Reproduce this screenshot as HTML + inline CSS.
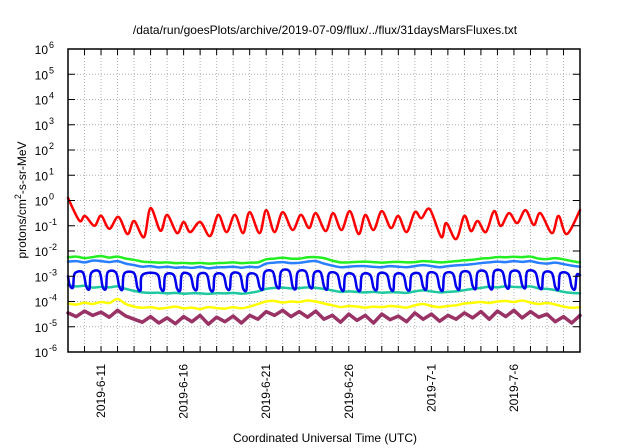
<!DOCTYPE html>
<html><head><meta charset="utf-8"><style>
html,body{margin:0;padding:0;background:#fff;}
svg{display:block;font-family:"Liberation Sans",sans-serif;}
</style></head><body>
<svg id="chart" width="640" height="448" viewBox="0 0 640 448" xmlns="http://www.w3.org/2000/svg">
<text x="325" y="34" font-size="12" text-anchor="middle">/data/run/goesPlots/archive/2019-07-09/flux/../flux/31daysMarsFluxes.txt</text>
<g id="grid"></g>
<g id="series"></g>
<g id="axes"></g>
<text transform="translate(26,200) rotate(-90)" font-size="12" text-anchor="middle">protons/cm<tspan dy="-5" font-size="9">2</tspan><tspan dy="5">-s-sr-MeV</tspan></text>
<text x="325" y="442" font-size="12" text-anchor="middle">Coordinated Universal Time (UTC)</text>
</svg>
<script>
const yExps = [6,5,4,3,2,1,0,-1,-2,-3,-4,-5,-6];
const xTickLabels = ["2019-6-11","2019-6-16","2019-6-21","2019-6-26","2019-7-1","2019-7-6"];
const xTickDays = [2,7,12,17,22,27];
const halfDays = [0,0.5,1,1.5,2,2.5,3,3.5,4,4.5,5,5.5,6,6.5,7,7.5,8,8.5,9,9.5,10,10.5,11,11.5,12,12.5,13,13.5,14,14.5,15,15.5,16,16.5,17,17.5,18,18.5,19,19.5,20,20.5,21,21.5,22,22.5,23,23.5,24,24.5,25,25.5,26,26.5,27,27.5,28,28.5,29,29.5,30,30.5,31];
const redDays = [0,0.69,1.03,1.6,2.0,2.5,3.05,3.6,4.0,4.6,5.0,5.6,6.0,6.6,7.0,7.4,8.0,8.6,9.1,9.6,10.1,10.6,11.0,11.6,12.0,12.5,13.0,13.6,14.1,14.6,15.0,15.6,16.05,16.56,17.06,17.6,18.0,18.5,19.0,19.55,20.0,20.5,21.0,21.4,21.9,22.6,22.9,23.5,24.0,24.4,24.8,25.3,25.8,26.2,26.7,27.2,27.7,28.2,28.6,29.3,29.7,30.2,31];
const redLog = [0.1,-0.8,-0.61,-1,-0.6,-1.12,-0.65,-1.33,-0.81,-1.45,-0.3,-1.2,-0.57,-1.29,-0.85,-1.25,-0.85,-1.41,-0.57,-1.25,-0.57,-1.29,-0.46,-1.29,-0.38,-1.25,-0.46,-1.17,-0.57,-1.09,-0.5,-1.21,-0.5,-1.17,-0.42,-1.33,-0.57,-1.17,-0.42,-1.09,-0.61,-1.25,-0.46,-0.7,-0.34,-1.45,-0.89,-1.53,-0.61,-1.21,-0.81,-1.25,-0.42,-1.01,-0.5,-0.89,-0.38,-0.97,-0.5,-1.29,-0.61,-1.33,-0.38];
const greenLog = [-2.25,-2.22,-2.28,-2.24,-2.2,-2.26,-2.22,-2.3,-2.35,-2.42,-2.44,-2.46,-2.45,-2.48,-2.47,-2.49,-2.47,-2.5,-2.48,-2.47,-2.45,-2.48,-2.46,-2.45,-2.33,-2.3,-2.27,-2.3,-2.3,-2.25,-2.24,-2.28,-2.38,-2.45,-2.45,-2.43,-2.42,-2.44,-2.46,-2.44,-2.43,-2.45,-2.44,-2.4,-2.42,-2.45,-2.43,-2.4,-2.37,-2.35,-2.3,-2.28,-2.24,-2.25,-2.23,-2.24,-2.22,-2.3,-2.32,-2.28,-2.33,-2.4,-2.45];
const lightBlueLog = [-2.42,-2.4,-2.45,-2.38,-2.4,-2.44,-2.4,-2.5,-2.56,-2.62,-2.6,-2.65,-2.62,-2.66,-2.64,-2.67,-2.63,-2.68,-2.65,-2.64,-2.62,-2.66,-2.62,-2.64,-2.5,-2.46,-2.44,-2.48,-2.47,-2.42,-2.4,-2.5,-2.58,-2.64,-2.62,-2.6,-2.6,-2.63,-2.64,-2.6,-2.62,-2.64,-2.6,-2.56,-2.6,-2.64,-2.6,-2.57,-2.55,-2.52,-2.48,-2.45,-2.42,-2.44,-2.4,-2.43,-2.4,-2.47,-2.5,-2.46,-2.52,-2.58,-2.62];
const tealLog = [-3.35,-3.4,-3.38,-3.45,-3.42,-3.44,-3.4,-3.5,-3.58,-3.64,-3.66,-3.65,-3.68,-3.66,-3.69,-3.67,-3.68,-3.7,-3.67,-3.68,-3.66,-3.69,-3.66,-3.6,-3.5,-3.46,-3.45,-3.48,-3.47,-3.44,-3.46,-3.5,-3.56,-3.62,-3.6,-3.62,-3.64,-3.62,-3.65,-3.63,-3.64,-3.66,-3.6,-3.56,-3.6,-3.64,-3.62,-3.6,-3.55,-3.5,-3.46,-3.42,-3.44,-3.4,-3.42,-3.43,-3.4,-3.48,-3.5,-3.55,-3.62,-3.66,-3.68];
const yellowLog = [-4.08,-4.12,-4.05,-4.1,-4.02,-4.06,-3.9,-4.1,-4.2,-4.25,-4.22,-4.28,-4.25,-4.2,-4.27,-4.24,-4.3,-4.22,-4.26,-4.28,-4.23,-4.27,-4.2,-4.1,-4.0,-3.98,-4.04,-4.0,-4.02,-3.96,-4.0,-4.08,-4.15,-4.22,-4.18,-4.2,-4.24,-4.2,-4.22,-4.18,-4.2,-4.24,-4.15,-4.1,-4.18,-4.22,-4.18,-4.15,-4.08,-4.05,-4.02,-4.06,-4.0,-3.98,-4.02,-3.96,-4.04,-4.1,-4.06,-4.12,-4.2,-4.25,-4.22];
const purpleLog = [-4.45,-4.6,-4.38,-4.55,-4.42,-4.62,-4.35,-4.58,-4.7,-4.82,-4.6,-4.85,-4.65,-4.88,-4.6,-4.8,-4.55,-4.9,-4.62,-4.8,-4.58,-4.85,-4.55,-4.7,-4.4,-4.55,-4.35,-4.6,-4.4,-4.62,-4.38,-4.7,-4.55,-4.82,-4.5,-4.75,-4.55,-4.85,-4.5,-4.72,-4.58,-4.8,-4.45,-4.7,-4.5,-4.78,-4.55,-4.7,-4.45,-4.65,-4.4,-4.7,-4.38,-4.6,-4.35,-4.65,-4.4,-4.62,-4.5,-4.8,-4.6,-4.85,-4.55];
const blueDays = [0,0.1,0.3,0.4, 0.9,1.1,1.3,1.4, 1.9,2.1,2.3,2.4, 2.9,3.1,3.3,3.4, 4.0,4.2,4.4,4.5, 5.4,5.6,5.8,5.9, 6.4,6.6,6.8,6.9, 7.4,7.6,7.8,7.9, 8.4,8.6,8.8,8.9, 9.4,9.6,9.8,9.9, 10.4,10.6,10.8,10.9, 11.4,11.6,11.8,11.9, 12.4,12.6,12.8,12.9, 13.4,13.6,13.8,13.9, 14.4,14.6,14.8,14.9, 15.3,15.5,15.7,15.8, 16.3,16.5,16.7,16.8, 17.3,17.5,17.7,17.8, 18.3,18.5,18.7,18.8, 19.3,19.5,19.7,19.8, 20.3,20.5,20.7,20.8, 21.3,21.5,21.7,21.8, 22.3,22.5,22.7,22.8, 23.3,23.5,23.7,23.8, 24.3,24.5,24.7,24.8, 25.3,25.5,25.7,25.8, 26.3,26.5,26.7,26.8, 27.3,27.5,27.7,27.8, 28.3,28.5,28.7,28.8, 29.3,29.5,29.7,29.8, 30.3,30.5,30.7,30.8, 31];
const blueLog = [-3.0,-3.35,-3.45,-2.9, -2.85,-3.4,-3.5,-2.88, -2.82,-3.42,-3.48,-2.85, -2.85,-3.4,-3.52,-2.9, -2.88,-3.45,-3.55,-2.95, -2.92,-3.45,-3.55,-2.95, -2.95,-3.48,-3.55,-2.92, -2.95,-3.45,-3.52,-2.95, -2.93,-3.5,-3.55,-2.95, -2.95,-3.45,-3.5,-2.92, -2.92,-3.48,-3.55,-2.95, -2.95,-3.42,-3.5,-2.85, -2.82,-3.35,-3.45,-2.82, -2.8,-3.4,-3.48,-2.85, -2.82,-3.35,-3.45,-2.88, -2.85,-3.4,-3.5,-2.9, -2.92,-3.45,-3.55,-2.95, -2.95,-3.48,-3.55,-2.95, -2.95,-3.45,-3.52,-2.92, -2.93,-3.45,-3.55,-2.95, -2.95,-3.48,-3.52,-2.95, -2.92,-3.42,-3.5,-2.9, -2.92,-3.45,-3.55,-2.92, -2.9,-3.4,-3.5,-2.88, -2.86,-3.38,-3.48,-2.85, -2.84,-3.4,-3.48,-2.82, -2.82,-3.38,-3.45,-2.85, -2.83,-3.35,-3.45,-2.82, -2.85,-3.38,-3.48,-2.88, -2.88,-3.42,-3.5,-2.9, -2.92,-3.42,-3.5,-2.95, -2.95];

const L=68, R=580, T=49, B=352, NDAYS=31, YMAX=6, YMIN=-6;
const xs = d => L + (R-L)*d/NDAYS;
const ys = e => T + (B-T)*(YMAX-e)/(YMAX-YMIN);
const NS="http://www.w3.org/2000/svg";
function mk(tag, attrs, parent){const el=document.createElementNS(NS,tag);for(const k in attrs)el.setAttribute(k,attrs[k]);parent.appendChild(el);return el;}
const grid=document.getElementById('grid'), axes=document.getElementById('axes'), series=document.getElementById('series');
for(let d=1; d<NDAYS; d++){
  const g=mk('line',{x1:xs(d),x2:xs(d),y1:T,y2:B,stroke:'#b0b0b0','stroke-width':1,'stroke-dasharray':'1,2'},grid);
  
  
  const t1=mk('line',{x1:xs(d),x2:xs(d),y1:B,y2:B-6,stroke:'#000','stroke-width':1},axes);
  
  
  const t2=mk('line',{x1:xs(d),x2:xs(d),y1:T,y2:T+6,stroke:'#000','stroke-width':1},axes);
  
  
}
yExps.forEach(e=>{
  const y=ys(e);
  if(e<YMAX && e>YMIN){
    const g=mk('line',{x1:L,x2:R,y1:y,y2:y,stroke:'#b0b0b0','stroke-width':1,'stroke-dasharray':'1,2'},grid);
    
    
  }
  const t=mk('line',{x1:L,x2:L+7,y1:y,y2:y,stroke:'#000','stroke-width':1},axes);
  
  
  const t2=mk('line',{x1:R,x2:R-7,y1:y,y2:y,stroke:'#000','stroke-width':1},axes);
  
  
  const lab=mk('text',{x:L-20,y:y+5,'font-size':12,'text-anchor':'end'},axes);
  
  
  lab.textContent='10';
  const sup=mk('tspan',{x:L-19,y:y-1,'font-size':9,'text-anchor':'start'},lab);
  sup.textContent=String(e);
});
xTickDays.forEach((d,i)=>{
  const lab=mk('text',{transform:`translate(${xs(d)+4},${B+12}) rotate(-90)`,'font-size':12,'text-anchor':'end'},axes);
  
  
  lab.textContent=xTickLabels[i];
});
const frame=mk('rect',{x:L,y:T,width:R-L,height:B-T,fill:'none',stroke:'#000','stroke-width':1.5},axes);


function smoothPath(P){
  let d='M'+P[0][0].toFixed(1)+','+P[0][1].toFixed(1);
  for(let i=0;i<P.length-1;i++){
    const p0=P[Math.max(0,i-1)],p1=P[i],p2=P[i+1],p3=P[Math.min(P.length-1,i+2)];
    const c1x=p1[0]+(p2[0]-p0[0])/6,c1y=p1[1]+(p2[1]-p0[1])/6;
    const c2x=p2[0]-(p3[0]-p1[0])/6,c2y=p2[1]-(p3[1]-p1[1])/6;
    d+=` C${c1x.toFixed(1)},${c1y.toFixed(1)} ${c2x.toFixed(1)},${c2y.toFixed(1)} ${p2[0].toFixed(1)},${p2[1].toFixed(1)}`;
  }
  return d;
}
function drawLine(days, vals, color, w, name, smooth){
  const P=days.map((d,i)=>[xs(d),ys(vals[i])]);
  const p=mk('path',{d:smooth?smoothPath(P):'M'+P.map(q=>q[0].toFixed(1)+','+q[1].toFixed(1)).join(' L'),fill:'none',stroke:color,'stroke-width':w,'stroke-linejoin':'round','stroke-linecap':'round'},series);
  
  
}
drawLine(halfDays, purpleLog, '#993366', 3.5, 'series-purple', false);
drawLine(halfDays, yellowLog, '#ffff00', 2.5, 'series-yellow', true);
drawLine(halfDays, tealLog, '#20c8a0', 2.5, 'series-teal', true);
drawLine(blueDays, blueLog, '#0000ee', 2.5, 'series-dark-blue', true);
drawLine(halfDays, lightBlueLog, '#2a7fff', 2.5, 'series-light-blue', true);
drawLine(halfDays, greenLog, '#22ee22', 2.5, 'series-green', true);
drawLine(redDays, redLog, '#ff0000', 2.5, 'series-red', true);
</script>
</body></html>
